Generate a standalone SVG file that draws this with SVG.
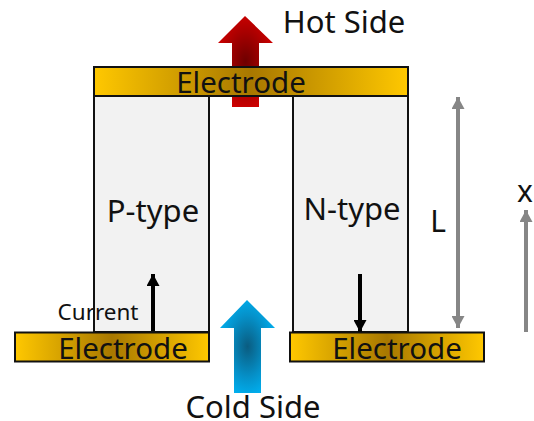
<svg xmlns="http://www.w3.org/2000/svg" width="534" height="421" viewBox="0 0 534 421">
<style>
text{font-family:"Noto Sans","Open Sans","Liberation Sans",sans-serif;fill:#111;text-anchor:middle}
.el{fill:url(#gold);stroke:#111;stroke-width:2}
.leg{fill:#f2f2f2;stroke:#111;stroke-width:2}
.big{font-size:31px}
.etx{font-size:29.5px}
.k{stroke:#000;stroke-width:4;fill:none}
.g{stroke:#868686;stroke-width:4;fill:none}
</style>
<defs>
<linearGradient id="gold"><stop offset="0" stop-color="#ffc800"/><stop offset=".5" stop-color="#a87800"/><stop offset="1" stop-color="#ffc800"/></linearGradient>
<radialGradient id="red" cx=".5" cy=".5" r=".55"><stop offset="0" stop-color="#6e0000"/><stop offset="1" stop-color="#d00000"/></radialGradient>
<radialGradient id="blue" cx=".5" cy=".5" r=".55"><stop offset="0" stop-color="#0a5c80"/><stop offset=".6" stop-color="#0590c8"/><stop offset="1" stop-color="#00b0f0"/></radialGradient>
<marker id="ka" markerUnits="userSpaceOnUse" markerWidth="14" markerHeight="13" refX="12" refY="6.5" orient="auto"><path d="M0 0L12 6.5L0 13z" fill="#000"/></marker>
<marker id="ga" markerUnits="userSpaceOnUse" markerWidth="14" markerHeight="13" refX="12" refY="6.5" orient="auto"><path d="M0 0L12 6.5L0 13z" fill="#868686"/></marker>
<marker id="gs" markerUnits="userSpaceOnUse" markerWidth="14" markerHeight="13" refX="0" refY="6.5" orient="auto"><path d="M12 0L0 6.5L12 13z" fill="#868686"/></marker>
</defs>
<g id="hot-side"><path d="M245 16L273 43H259V107H232V43H218z" fill="url(#red)"/><text class="big" x="344" y="33">Hot Side</text></g>
<g id="p-type"><rect class="leg" x="94" y="96" width="115" height="236"/><text class="big" x="153" y="222">P-type</text></g>
<g id="n-type"><rect class="leg" x="293" y="96" width="115" height="236"/><text class="big" x="352" y="220">N-type</text></g>
<g id="top-electrode"><rect class="el" x="94" y="67" width="314" height="29"/><text class="etx" x="241" y="93">Electrode</text></g>
<g id="left-electrode"><rect class="el" x="15" y="332.500" width="194" height="29"/><text class="etx" x="123" y="359">Electrode</text></g>
<g id="right-electrode"><rect class="el" x="290" y="332.500" width="194" height="29"/><text class="etx" x="397" y="359">Electrode</text></g>
<g id="cold-side"><path d="M247 300L275 328H261V393H234V328H220z" fill="url(#blue)"/><text class="big" x="253" y="418">Cold Side</text></g>
<g id="connectors">
<path class="k" d="M153 331V274" marker-end="url(#ka)"/>
<path class="k" d="M360 274V332" marker-end="url(#ka)"/>
<path class="g" d="M458 97V328" marker-start="url(#gs)" marker-end="url(#ga)"/>
<path class="g" d="M526 332V210" marker-end="url(#ga)"/>
</g>
<g id="labels">
<text x="98" y="320" font-size="22.500">Current</text>
<text x="438" y="232" font-size="30">L</text>
<text x="525" y="202" font-size="30">x</text>
</g>
</svg>
